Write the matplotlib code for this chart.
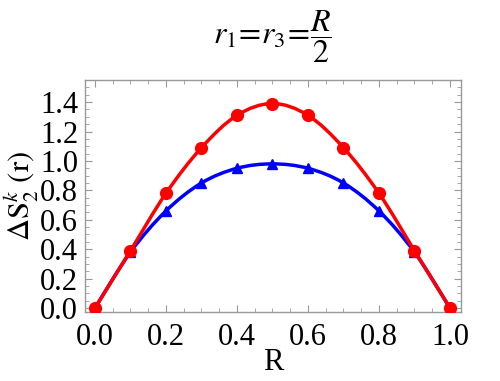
import matplotlib
matplotlib.use("Agg")
import matplotlib.pyplot as plt
from matplotlib.path import Path
from matplotlib.patches import PathPatch
from matplotlib.ticker import MultipleLocator, FormatStrFormatter

plt.rcParams['font.family'] = ['Liberation Serif', 'DejaVu Serif']
plt.rcParams['mathtext.fontset'] = 'stix'

R = [0.0, 0.1, 0.2, 0.3, 0.4, 0.5, 0.6, 0.7, 0.8, 0.9, 1.0]
red_vals = [0.0, 0.39, 0.78, 1.09, 1.31, 1.39, 1.31, 1.09, 0.78, 0.39, 0.0]
blue_vals = [0.0, 0.38, 0.66, 0.85, 0.95, 0.98, 0.95, 0.85, 0.66, 0.38, 0.0]


def smooth_path(xs, ys):
    # Catmull-Rom through the points, written as cubic Bezier segments
    pts = list(zip(xs, ys))
    verts = [pts[0]]
    codes = [Path.MOVETO]
    n = len(pts)
    for i in range(n - 1):
        p0 = pts[i - 1] if i > 0 else pts[i]
        p1 = pts[i]
        p2 = pts[i + 1]
        p3 = pts[i + 2] if i + 2 < n else pts[i + 1]
        c1 = (p1[0] + (p2[0] - p0[0]) / 6, p1[1] + (p2[1] - p0[1]) / 6)
        c2 = (p2[0] - (p3[0] - p1[0]) / 6, p2[1] - (p3[1] - p1[1]) / 6)
        verts += [c1, c2, p2]
        codes += [Path.CURVE4] * 3
    return Path(verts, codes)


fig = plt.figure(figsize=(5.0, 3.81), dpi=100)
ax = fig.add_axes([0.17, 0.181, 0.752, 0.609])

ax.add_patch(PathPatch(smooth_path(R, blue_vals), fill=False, ec='blue', lw=2.5, zorder=2))
ax.plot(R, blue_vals, ls='none', color='blue', marker='^', ms=7, zorder=2)
ax.add_patch(PathPatch(smooth_path(R, red_vals), fill=False, ec='red', lw=2.5, zorder=3))
ax.plot(R, red_vals, ls='none', color='red', marker='o', ms=8.5, zorder=3)

ax.set_xlim(-0.028, 1.031)
ax.set_ylim(-0.027, 1.55)
ax.xaxis.set_major_locator(MultipleLocator(0.2))
ax.xaxis.set_minor_locator(MultipleLocator(0.05))
ax.yaxis.set_major_locator(MultipleLocator(0.2))
ax.yaxis.set_minor_locator(MultipleLocator(0.05))
ax.xaxis.set_major_formatter(FormatStrFormatter('%.1f'))
ax.yaxis.set_major_formatter(FormatStrFormatter('%.1f'))

for s in ax.spines.values():
    s.set_color('#999999')
    s.set_linewidth(1.0)
ax.tick_params(which='both', direction='in', top=True, right=True,
               color='#999999', labelsize=22)
ax.tick_params(which='major', length=5, width=0.8)
ax.tick_params(which='minor', length=3, width=0.6)
ax.tick_params(axis='x', pad=8)
ax.tick_params(axis='y', pad=5)

ax.set_xlabel('R', fontsize=22, labelpad=-3)
ax.set_ylabel(r'$\Delta\mathrm{S}_2^{k}\ \mathrm{(r)}$', fontsize=22, labelpad=0)
fig.text(0.545, 0.905, r'$r_1\!=\!r_3\!=\!\dfrac{R}{2}$', fontsize=23,
         ha='center', va='center')

fig.savefig('out.png', dpi=100)
